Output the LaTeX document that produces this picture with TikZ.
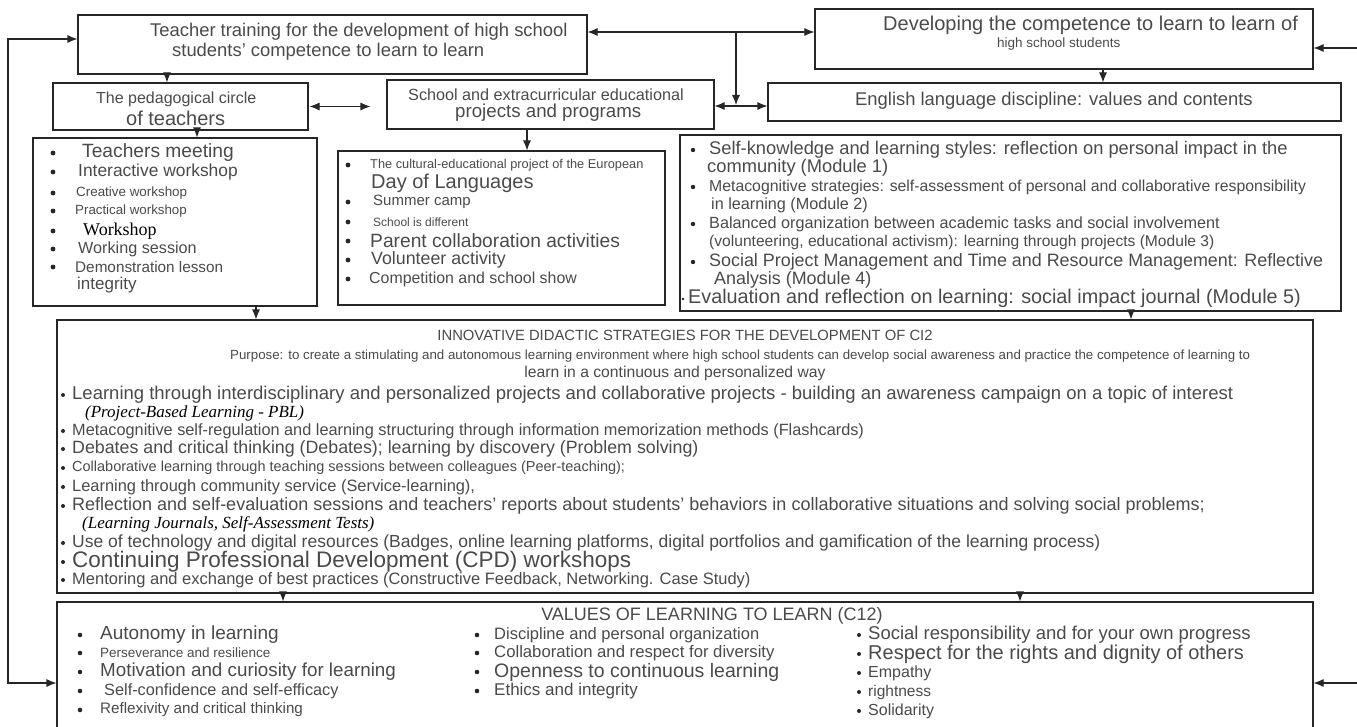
\documentclass[tikz,border=0pt]{standalone}
\usepackage{fontspec}
\setmainfont{Liberation Sans}
\newfontfamily\timesfont{Liberation Serif}
\usetikzlibrary{positioning,calc,arrows.meta}
\definecolor{ink}{HTML}{4A4A4A}
\definecolor{edge}{HTML}{262626}
\newcommand{\fs}[1]{\fontsize{#1}{#1}\selectfont}
\tikzset{
  box/.style={draw=edge, line width=1.1pt, inner sep=0pt},
  txt/.style={anchor=west, inner sep=0pt, text=ink},
  link/.style={draw=edge, line width=1.1pt},
}

\begin{document}
\begin{tikzpicture}[x=1pt, y=-1pt, >={Latex[length=10pt,width=8pt]}]
\useasboundingbox (0,0) rectangle (1357,727);

% boxes
\node[box, minimum width=509pt, minimum height=59pt] (teach) at (332.5,44.5) {};
\node[box, minimum width=498pt, minimum height=60pt] (develop) at (1064,39) {};
\node[box, minimum width=255pt, minimum height=47pt] (pedcircle) at (180.5,106.5) {};
\node[box, minimum width=327pt, minimum height=49pt] (projects) at (550.5,104.5) {};
\node[box, minimum width=573pt, minimum height=38pt] (english) at (1054.5,102) {};
\node[box, minimum width=284pt, minimum height=168pt] (meetings) at (175,222) {};
\node[box, minimum width=327pt, minimum height=154pt] (events) at (501.5,228) {};
\node[box, minimum width=661pt, minimum height=176pt] (modules) at (1010.5,223) {};
\node[box, minimum width=1256pt, minimum height=273pt] (strategies) at (685,456.5) {};
\node[box, minimum width=1256pt, minimum height=140pt] (values) at (685,672) {};

% box titles
\node[txt, font=\fs{18.4}] (teachA) at (150,32) {Teacher training for the development of high school};
\node[txt, font=\fs{18.4}] (teachB) at (172,52) {students' competence to learn to learn};
\node[txt, font=\fs{20}] (devA) at (883,25) {Developing the competence to learn to learn of};
\node[txt, font=\fs{13.5}] (devB) at (997,44) {high school students};
\node[txt, font=\fs{16}] (pedA) at (96,99) {The pedagogical circle};
\node[txt, font=\fs{20}] (pedB) at (126,118) {of teachers};
\node[txt, font=\fs{16.2}] (projA) at (408,95) {School and extracurricular educational};
\node[txt, font=\fs{18.7}] (projB) at (455,113) {projects and programs};
\node[txt, font=\fs{18.4}] (engl) at (855,101) {English language discipline: values and contents};

% connectors
\coordinate (topbus) at (736,32);
\coordinate (midbus) at (736,106);
\draw[link, <->] (teach.east |- topbus) -- (develop.west |- topbus);
\draw[link, <->] (projects.east |- midbus) -- (english.west |- midbus);
\draw[link, ->] (topbus) -- ([yshift=1pt]midbus);
\draw[link, <->] ([xshift=1pt]pedcircle.east) -- ([xshift=-16pt]projects.west |- pedcircle.east);
\coordinate (dropA) at (167,0);
\coordinate (dropB) at (1103,0);
\coordinate (dropC) at (197,0);
\coordinate (dropD) at (527,0);
\coordinate (dropE) at (256,0);
\coordinate (dropF) at (1131,0);
\coordinate (dropG) at (283,0);
\coordinate (dropH) at (1020,0);
\draw[link, ->] (teach.south -| dropA) -- (pedcircle.north -| dropA);
\draw[link, ->] (develop.south -| dropB) -- (english.north -| dropB);
\draw[link, ->] (pedcircle.south -| dropC) -- (meetings.north -| dropC);
\draw[link, ->] (projects.south -| dropD) -- (events.north -| dropD);
\draw[link, ->] (meetings.south -| dropE) -- (strategies.north -| dropE);
\draw[link, ->] (modules.south -| dropF) -- (strategies.north -| dropF);
\draw[link, ->] (strategies.south -| dropG) -- (values.north -| dropG);
\draw[link, ->] (strategies.south -| dropH) -- (values.north -| dropH);
% feedback lines
\coordinate (lup) at (8,39);
\coordinate (ldown) at (8,683);
\coordinate (rup) at (1357,48);
\coordinate (rdown) at (1357,683);
\draw[link, <->] (teach.west |- lup) -- (lup) -- (ldown) -- (values.west |- ldown);
\draw[link, ->] (rup) -- (develop.east |- rup);
\draw[link, ->] (rdown) -- (values.east |- rdown);

% teachers' activities
\foreach \xx/\yy/\sz/\t [count=\i] in {
  82/153/19.2/{Teachers meeting},
  78/172/17.4/{Interactive workshop},
  76/193/13.4/{Creative workshop},
  75/211/13.3/{Practical workshop},
  78/249/16.2/{Working session},
  75/267/15.3/{Demonstration lesson},
  77/285/17/{integrity}}
  {\node[txt, font=\fs{\sz}] (meet\i) at (\xx,\yy) {\t};}
\node[txt, font=\timesfont\fs{18}, text=black] (meetW) at (83,231) {Workshop};
\foreach \yy in {153,172,193,211,231,249,267}
  \fill[edge] (53,\yy) circle (2.4pt);

% projects and programs
\foreach \xx/\yy/\sz/\t [count=\i] in {
  370/165/12.8/{The cultural-educational project of the European},
  371/183/20/{Day of Languages},
  373/202/15/{Summer camp},
  373/222/12/{School is different},
  370/241/19.2/{Parent collaboration activities},
  371/260/17.8/{Volunteer activity},
  369/279/15.9/{Competition and school show}}
  {\node[txt, font=\fs{\sz}] (event\i) at (\xx,\yy) {\t};}
\foreach \yy in {165,202,222,241,260,279}
  \fill[edge] (348,\yy) circle (2.4pt);

% modules
\foreach \xx/\yy/\sz/\t [count=\i] in {
  709/150/18.3/{Self-knowledge and learning styles: reflection on personal impact in the},
  707/168/18.3/{community (Module 1)},
  709/187/15.8/{Metacognitive strategies: self-assessment of personal and collaborative responsibility},
  711/205/16.2/{in learning (Module 2)},
  709/224/16.2/{Balanced organization between academic tasks and social involvement},
  709/242/15.6/{(volunteering, educational activism): learning through projects (Module 3)},
  709/262/17.9/{Social Project Management and Time and Resource Management: Reflective},
  714/280/17.9/{Analysis (Module 4)},
  688/298/19.8/{Evaluation and reflection on learning: social impact journal (Module 5)}}
  {\node[txt, font=\fs{\sz}] (mod\i) at (\xx,\yy) {\t};}
\foreach \yy in {150,187,224,262}
  \fill[edge] (693,\yy) circle (2.2pt);
\fill[edge] (683,299) circle (1.3pt);

% innovative strategies
\node[txt, anchor=center, font=\fs{14.8}] (stratT) at (685,335) {INNOVATIVE DIDACTIC STRATEGIES FOR THE DEVELOPMENT OF CI2};
\node[txt, font=\fs{13.3}] (stratP) at (230,356) {Purpose: to create a stimulating and autonomous learning environment where high school students can develop social awareness and practice the competence of learning to};
\node[txt, anchor=center, font=\fs{15.7}] (stratQ) at (675,373) {learn in a continuous and personalized way};
\foreach \yy/\sz/\t [count=\i] in {
  395/18.5/{Learning through interdisciplinary and personalized projects and collaborative projects - building an awareness campaign on a topic of interest},
  431/16.3/{Metacognitive self-regulation and learning structuring through information memorization methods (Flashcards)},
  449/17.8/{Debates and critical thinking (Debates); learning by discovery (Problem solving)},
  468/14.5/{Collaborative learning through teaching sessions between colleagues (Peer-teaching);},
  487/16.4/{Learning through community service (Service-learning),},
  506/18/{Reflection and self-evaluation sessions and teachers' reports about students' behaviors in collaborative situations and solving social problems;},
  543/17.5/{Use of technology and digital resources (Badges, online learning platforms, digital portfolios and gamification of the learning process)},
  562/22.5/{Continuing Professional Development (CPD) workshops},
  580/16.5/{Mentoring and exchange of best practices (Constructive Feedback, Networking. Case Study)}}
  {\node[txt, font=\fs{\sz}] (strat\i) at (72,\yy) {\t};
   \fill[edge] (63,\yy) circle (2pt);}
\node[txt, font=\timesfont\itshape\fs{17}, text=black] (stratPBL) at (85,413) {(Project-Based Learning - PBL)};
\node[txt, font=\timesfont\itshape\fs{17}, text=black] (stratLJ) at (82,524) {(Learning Journals, Self-Assessment Tests)};

% values of learning to learn
\node[txt, anchor=center, font=\fs{18}] (valT) at (712,616) {VALUES OF LEARNING TO LEARN (C12)};
\foreach \xx/\yy/\sz/\t [count=\i] in {
  100/635/19/{Autonomy in learning},
  100/653/13.5/{Perseverance and resilience},
  100/672/18.8/{Motivation and curiosity for learning},
  104/691/16.3/{Self-confidence and self-efficacy},
  100/710/15.2/{Reflexivity and critical thinking}}
  {\node[txt, font=\fs{\sz}] (valA\i) at (\xx,\yy) {\t};
   \fill[edge] (80,\yy) circle (2.3pt);}
\foreach \yy/\sz/\t [count=\i] in {
  635/16.5/{Discipline and personal organization},
  653/16.7/{Collaboration and respect for diversity},
  672/19.5/{Openness to continuous learning},
  691/17/{Ethics and integrity}}
  {\node[txt, font=\fs{\sz}] (valB\i) at (494,\yy) {\t};
   \fill[edge] (477,\yy) circle (2.3pt);}
\foreach \yy/\sz/\t [count=\i] in {
  635/18.5/{Social responsibility and for your own progress},
  654/20/{Respect for the rights and dignity of others},
  673/16/{Empathy},
  692/15.5/{rightness},
  711/16/{Solidarity}}
  {\node[txt, font=\fs{\sz}] (valC\i) at (868,\yy) {\t};
   \fill[edge] (859,\yy) circle (2pt);}

\end{tikzpicture}
\end{document}
